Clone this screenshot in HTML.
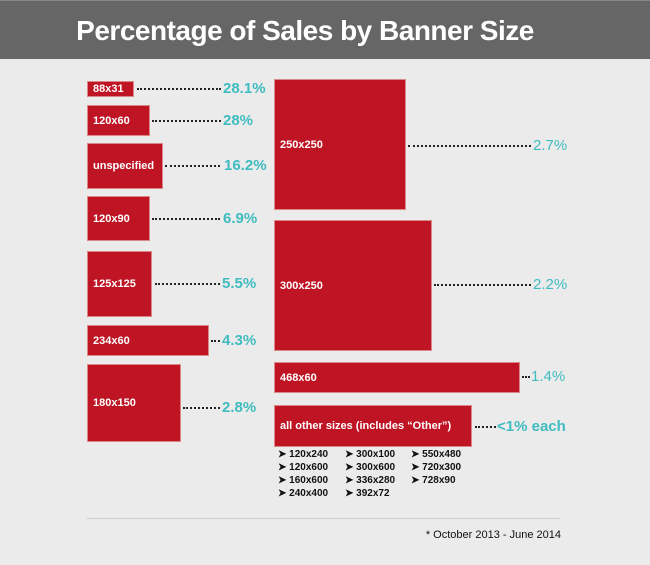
<!DOCTYPE html>
<html><head><meta charset="utf-8"><style>
body{margin:0;width:650px;height:565px;background:#ebebeb;position:relative;overflow:hidden;font-family:"Liberation Sans",sans-serif}
.h{position:absolute;left:0;top:0;width:650px;height:59px;background:#666;border-top:1px solid #888;box-sizing:border-box}
.t{position:absolute;left:70px;width:470px;top:14px;text-align:center;color:#fff;font-size:28px;font-weight:bold;letter-spacing:-0.5px;white-space:nowrap}
.b{position:absolute;background:#be1424;border:1px solid #d88;box-sizing:border-box;color:#fff;font-weight:bold;font-size:11px;display:flex;align-items:center;padding-left:5px}
.d{position:absolute;border-top:2px dotted #222;height:0}
.p{position:absolute;color:#3fbcc0;font-size:15px;font-weight:bold;line-height:16px}
.l{position:absolute;font-size:10px;font-weight:bold;color:#111;line-height:13px}
</style></head><body>
<div class="h"><div class="t">Percentage of Sales by Banner Size</div></div>

<div class="b" style="left:87px;top:81px;width:47px;height:16px">88x31</div>
<div class="d" style="left:137px;top:88px;width:84px"></div><div class="p" style="left:223px;top:81px">28.1%</div>
<div class="b" style="left:87px;top:105px;width:63px;height:31px">120x60</div>
<div class="d" style="left:152px;top:120px;width:69px"></div><div class="p" style="left:223px;top:113px">28%</div>
<div class="b" style="left:87px;top:143px;width:76px;height:46px">unspecified</div>
<div class="d" style="left:165px;top:165px;width:55px"></div><div class="p" style="left:224px;top:158px">16.2%</div>
<div class="b" style="left:87px;top:196px;width:63px;height:45px">120x90</div>
<div class="d" style="left:152px;top:218px;width:68px"></div><div class="p" style="left:223px;top:211px">6.9%</div>
<div class="b" style="left:87px;top:251px;width:65px;height:66px">125x125</div>
<div class="d" style="left:155px;top:283px;width:65px"></div><div class="p" style="left:222px;top:276px">5.5%</div>
<div class="b" style="left:87px;top:325px;width:122px;height:31px">234x60</div>
<div class="d" style="left:211px;top:340px;width:9px"></div><div class="p" style="left:222px;top:333px">4.3%</div>
<div class="b" style="left:87px;top:364px;width:94px;height:78px">180x150</div>
<div class="d" style="left:183px;top:407px;width:37px"></div><div class="p" style="left:222px;top:400px">2.8%</div>

<div class="b" style="left:274px;top:79px;width:132px;height:131px">250x250</div>
<div class="d" style="left:408px;top:145px;width:123px"></div><div class="p" style="left:533px;top:138px;font-weight:normal">2.7%</div>
<div class="b" style="left:274px;top:220px;width:158px;height:131px">300x250</div>
<div class="d" style="left:434px;top:284px;width:97px"></div><div class="p" style="left:533px;top:277px;font-weight:normal">2.2%</div>
<div class="b" style="left:274px;top:362px;width:246px;height:31px">468x60</div>
<div class="d" style="left:522px;top:376px;width:8px"></div><div class="p" style="left:531px;top:369px;font-weight:normal">1.4%</div>
<div class="b" style="left:274px;top:405px;width:198px;height:42px">all other sizes (includes “Other”)</div>
<div class="d" style="left:475px;top:426px;width:21px"></div><div class="p" style="left:497px;top:419px">&lt;1% each</div>

<div class="l" style="left:278px;top:448px">➤ 120x240<br>➤ 120x600<br>➤ 160x600<br>➤ 240x400</div>
<div class="l" style="left:345px;top:448px">➤ 300x100<br>➤ 300x600<br>➤ 336x280<br>➤ 392x72</div>
<div class="l" style="left:411px;top:448px">➤ 550x480<br>➤ 720x300<br>➤ 728x90</div>

<div style="position:absolute;left:87px;top:518px;width:473px;border-top:1px solid #ccc"></div>
<div style="position:absolute;left:420px;top:529px;width:141px;text-align:right;font-size:11px;color:#111">* October 2013 - June 2014</div>
</body></html>
